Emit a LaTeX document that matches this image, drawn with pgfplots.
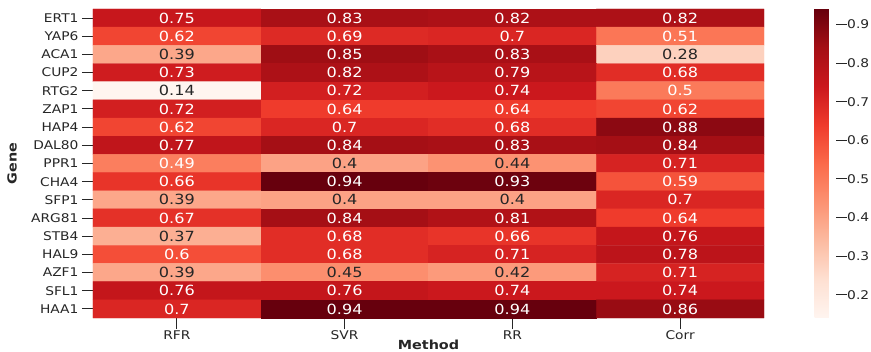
\documentclass[border=0pt]{standalone}
\usepackage{fontspec}
\setmainfont{DejaVu Sans}[FakeStretch=1.15]
\usepackage{pgfplots}
\usepackage{pgfplotstable}
\pgfplotsset{compat=1.18}
\definecolor{lab}{HTML}{262626}
\pgfplotstableread{
x y c
0 0 0.75
1 0 0.83
2 0 0.82
3 0 0.82
0 1 0.62
1 1 0.69
2 1 0.7
3 1 0.51
0 2 0.39
1 2 0.85
2 2 0.83
3 2 0.28
0 3 0.73
1 3 0.82
2 3 0.79
3 3 0.68
0 4 0.14
1 4 0.72
2 4 0.74
3 4 0.5
0 5 0.72
1 5 0.64
2 5 0.64
3 5 0.62
0 6 0.62
1 6 0.7
2 6 0.68
3 6 0.88
0 7 0.77
1 7 0.84
2 7 0.83
3 7 0.84
0 8 0.49
1 8 0.4
2 8 0.44
3 8 0.71
0 9 0.66
1 9 0.94
2 9 0.93
3 9 0.59
0 10 0.39
1 10 0.4
2 10 0.4
3 10 0.7
0 11 0.67
1 11 0.84
2 11 0.81
3 11 0.64
0 12 0.37
1 12 0.68
2 12 0.66
3 12 0.76
0 13 0.6
1 13 0.68
2 13 0.71
3 13 0.78
0 14 0.39
1 14 0.45
2 14 0.42
3 14 0.71
0 15 0.76
1 15 0.76
2 15 0.74
3 15 0.74
0 16 0.7
1 16 0.94
2 16 0.94
3 16 0.86
}\heat
\begin{document}
\begin{tikzpicture}
\begin{axis}[name=ax, scale only axis, width=671pt, height=309pt,
  xmin=-0.5, xmax=3.5, ymin=-0.5, ymax=16.5, y dir=reverse,
  xtick={0,1,2,3}, xticklabels={RFR,SVR,RR,Corr},
  ytick={0,...,16},
  yticklabels={ERT1,YAP6,ACA1,CUP2,RTG2,ZAP1,HAP4,DAL80,PPR1,CHA4,SFP1,ARG81,STB4,HAL9,AZF1,SFL1,HAA1},
  axis line style={draw=none},
  tick align=outside, xtick pos=left, ytick pos=left,
  major tick length=11pt, tick style={lab, line width=1pt},
  ticklabel style={font=\fontsize{12}{14}\selectfont, text=lab},
  xticklabel style={yshift=2pt},
  xlabel={Method}, ylabel={Gene},
  label style={font=\bfseries\fontsize{12.5}{14}\selectfont, text=lab},
  xlabel style={at={(axis description cs:0.5,0)}, anchor=center, yshift=-27pt},
  ylabel style={at={(axis description cs:0,0.5)}, anchor=center, yshift=81pt},
  colormap={reds}{rgb255=(255,245,240) rgb255=(254,224,210) rgb255=(252,187,161) rgb255=(252,146,114) rgb255=(251,106,74) rgb255=(239,59,44) rgb255=(203,24,29) rgb255=(165,15,21) rgb255=(103,0,13)},
  point meta min=0.14, point meta max=0.94,
  colorbar,
  colorbar style={at={(parent axis.north east)}, anchor=north west, xshift=42pt,
    width=21pt, height=309pt, scale only axis,
    ytick={0.2,0.3,0.4,0.5,0.6,0.7,0.8,0.9},
    axis line style={draw=none},
    major tick length=11pt, tick align=outside, ytick pos=right,
    tick style={lab, line width=1pt},
    yticklabel style={font=\fontsize{12}{14}\selectfont, text=lab, inner sep=0.5pt, /pgf/number format/fixed, /pgf/number format/precision=1, /pgf/number format/assume math mode=true}},
]
\addplot[matrix plot*, mesh/cols=4, mesh/rows=17, point meta=explicit]
  table[x=x, y=y, meta=c]{\heat};
\addplot[only marks, mark=none, point meta=explicit symbolic, nodes near coords,
  every node near coord/.append style={anchor=center, text=lab, font=\fontsize{14}{16}\selectfont},
  restrict expr to domain={\thisrow{c}}{0:0.465}]
  table[x=x, y=y, meta=c]{\heat};
\addplot[only marks, mark=none, point meta=explicit symbolic, nodes near coords,
  every node near coord/.append style={anchor=center, text=white, font=\fontsize{14}{16}\selectfont},
  restrict expr to domain={\thisrow{c}}{0.465:1}]
  table[x=x, y=y, meta=c]{\heat};
\end{axis}
\pgfresetboundingbox
\path[use as bounding box] ([shift={(-93pt,-34pt)}]ax.south west) rectangle ([shift={(107pt,9pt)}]ax.north east);
\end{tikzpicture}
\end{document}
